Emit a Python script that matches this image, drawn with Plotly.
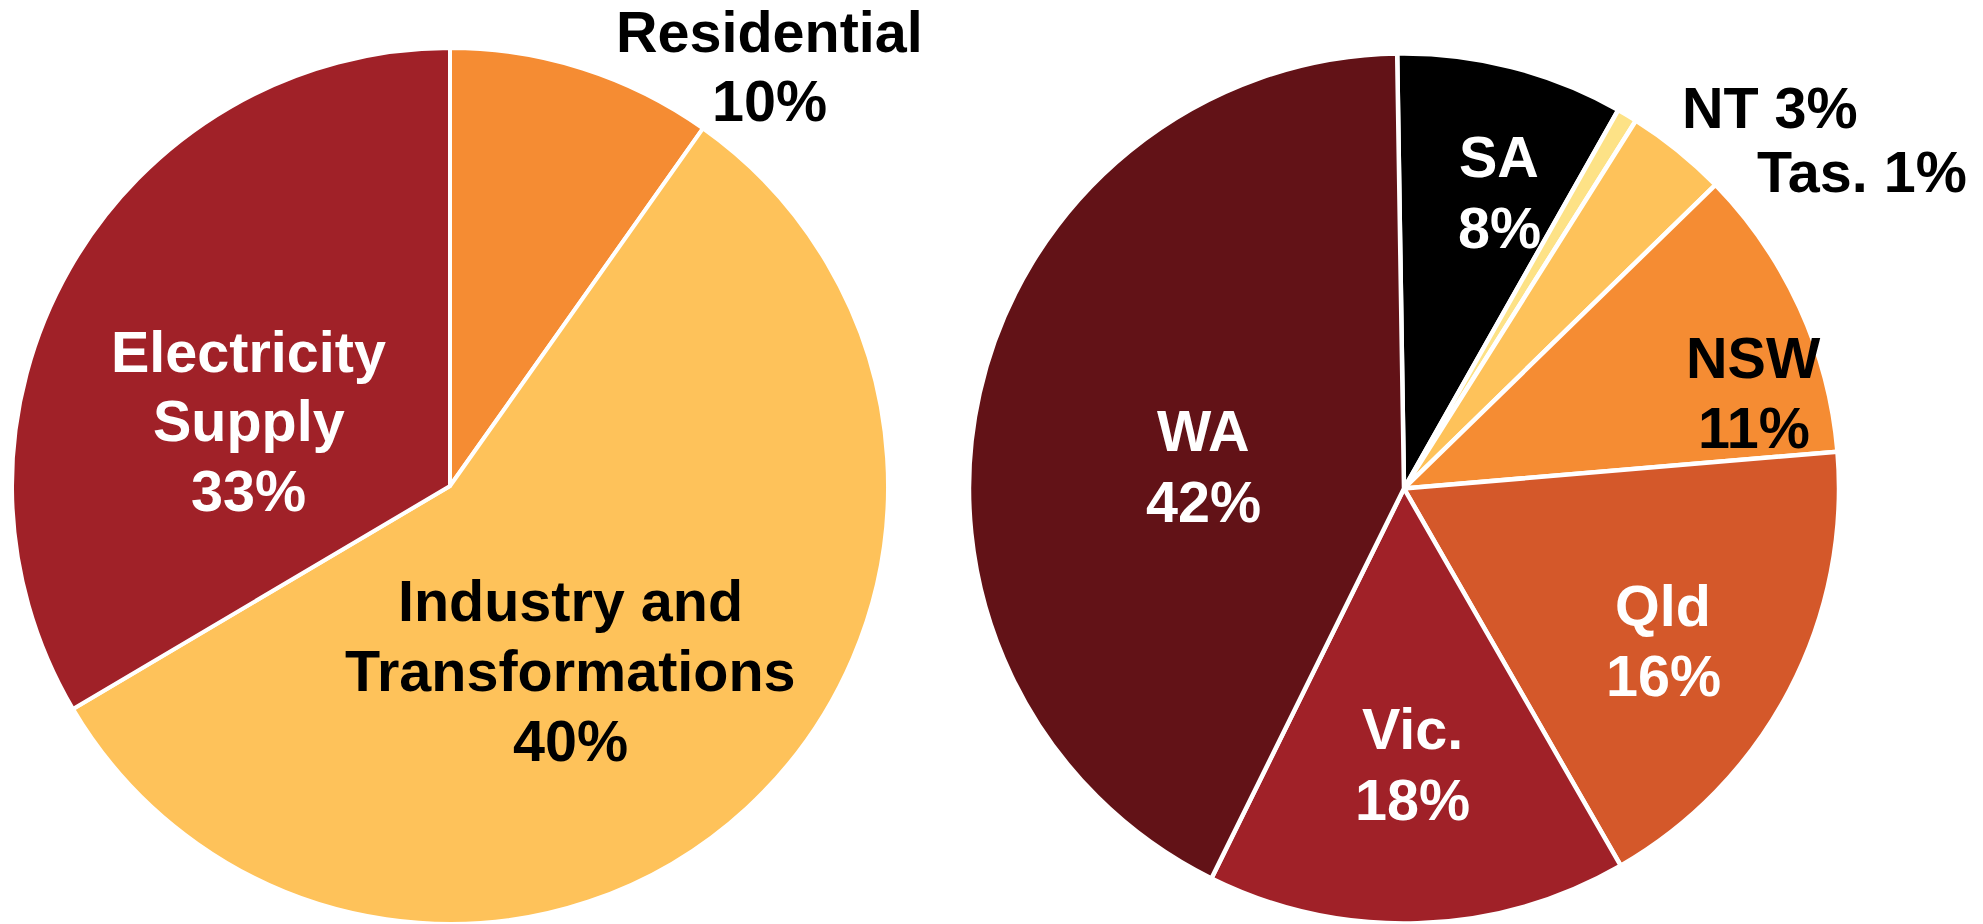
import plotly.graph_objects as go

W, H = 1983, 924
FS = 57.5
FONT = "Liberation Sans, Arial, sans-serif"

# ---- Left pie: emissions by sector ----
sector_names = ["Residential", "Industry and Transformations", "Electricity Supply"]
sector_values = [9.8, 56.7, 33.5]          # arc shares as drawn
sector_pct_text = ["10%", "40%", "33%"]    # printed labels
sector_colors = ["#F58C33", "#FEC25A", "#A02128"]
sector_text_colors = ["#000000", "#000000", "#FFFFFF"]

# ---- Right pie: by state ----
state_names = ["SA", "Tas.", "NT", "NSW", "Qld", "Vic.", "WA"]
state_values = [8.45, 0.75, 3.75, 10.95, 18.05, 15.6, 42.45]
state_pct_text = ["8%", "1%", "3%", "11%", "16%", "18%", "42%"]
state_colors = ["#000000", "#FDE286", "#FEC25A", "#F58C33", "#D4582A", "#A02128", "#621217"]
state_text_colors = ["#FFFFFF", "#000000", "#000000", "#000000", "#FFFFFF", "#FFFFFF", "#FFFFFF"]

# label line breaking and placement (pixels: x centre, baselines)
line_breaks = {
    "Industry and Transformations": ["Industry and", "Transformations"],
    "Electricity Supply": ["Electricity", "Supply"],
}
inline_labels = {"NT", "Tas."}
label_pos = {
    "Residential": (769, [52, 121.5]),
    "Industry and Transformations": (570, [621, 691, 761]),
    "Electricity Supply": (248.5, [372, 441.5, 511]),
    "SA": (1499, [177, 248]),
    "Tas.": (1861.5, [192.5]),
    "NT": (1769.5, [128]),
    "NSW": (1753.5, [378.5, 448]),
    "Qld": (1663, [626, 696]),
    "Vic.": (1412.5, [749, 820]),
    "WA": (1203.5, [451, 522]),
}

fig = go.Figure()
fig.add_trace(go.Pie(
    labels=sector_names, values=sector_values, sort=False, direction="clockwise",
    rotation=0, textinfo="none", hoverinfo="skip", showlegend=False,
    marker=dict(colors=sector_colors, line=dict(color="#FFFFFF", width=4)),
    domain=dict(x=[12 / W, 888 / W], y=[0, 1 - 48 / H]),
))
fig.add_trace(go.Pie(
    labels=state_names, values=state_values, sort=False, direction="clockwise",
    rotation=-0.9, textinfo="none", hoverinfo="skip", showlegend=False,
    marker=dict(colors=state_colors, line=dict(color="#FFFFFF", width=4.5)),
    domain=dict(x=[969 / W, 1839 / W], y=[1 - 923.5 / H, 1 - 53.5 / H]),
))

annotations = []
def add_label(name, pct, color):
    if name in inline_labels:
        lines = [f"{name} {pct}"]
    else:
        lines = line_breaks.get(name, [name]) + [pct]
    xpx, baselines = label_pos[name]
    for line, bl in zip(lines, baselines):
        annotations.append(dict(
            text=f"<b>{line}</b>", x=xpx / W, y=1 - (bl - 0.35 * FS) / H,
            xref="paper", yref="paper", xanchor="center", yanchor="middle",
            borderpad=0, showarrow=False,
            font=dict(family=FONT, size=FS, color=color),
        ))

for n, p, c in zip(sector_names, sector_pct_text, sector_text_colors):
    add_label(n, p, c)
for n, p, c in zip(state_names, state_pct_text, state_text_colors):
    add_label(n, p, c)

fig.update_layout(
    width=W, height=H, margin=dict(l=0, r=0, t=0, b=0),
    paper_bgcolor="#FFFFFF", plot_bgcolor="#FFFFFF",
    annotations=annotations, showlegend=False,
)
fig.write_html(
    "out.html",
    config={"displayModeBar": False},
    post_script="document.body.style.margin='0px';document.body.style.overflow='hidden';",
)
